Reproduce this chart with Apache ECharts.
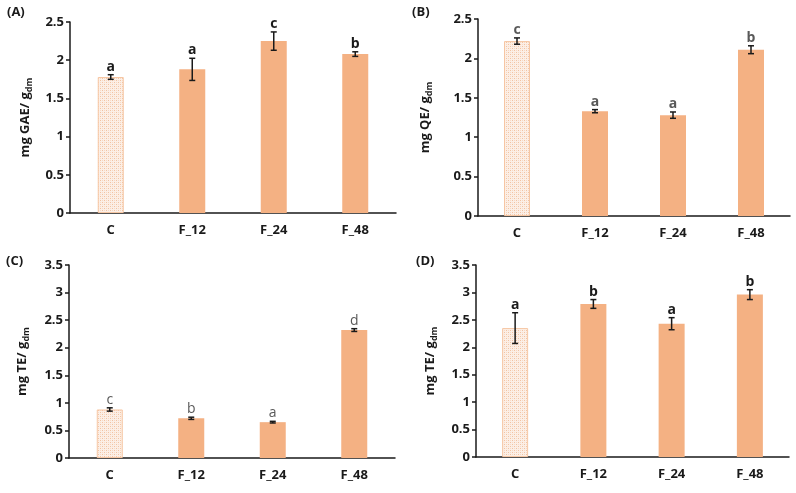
<!DOCTYPE html>
<html>
<head>
<meta charset="utf-8">
<script src="https://cdn.jsdelivr.net/npm/echarts@6/dist/echarts.min.js"></script>
<style>
  html, body { margin: 0; padding: 0; background: #fff; }
  #chart { width: 796px; height: 493px; }
</style>
</head>
<body>
<div id="chart"></div>
<script>
// categories shared by all four panels
const categories = ["C", "F_12", "F_24", "F_48"];

// (A) total phenolics, mg GAE / g dm
const meansA = [1.78, 1.88, 2.25, 2.08];
const errsA = [0.03, 0.145, 0.12, 0.03];
const lettersA = ["a", "a", "c", "b"];

// (B) flavonoids, mg QE / g dm
const meansB = [2.22, 1.33, 1.28, 2.11];
const errsB = [0.04, 0.02, 0.04, 0.05];
const lettersB = ["c", "a", "a", "b"];

// (C) mg TE / g dm
const meansC = [0.88, 0.72, 0.65, 2.32];
const errsC = [0.03, 0.02, 0.015, 0.025];
const lettersC = ["c", "b", "a", "d"];

// (D) mg TE / g dm
const meansD = [2.35, 2.79, 2.43, 2.96];
const errsD = [0.28, 0.08, 0.11, 0.09];
const lettersD = ["a", "b", "a", "b"];

const FONT = "'Open Sans', 'DejaVu Sans', sans-serif";
const barColor = "#F4B183";

// dotted peach pattern for the control bar
function makePattern() {
  const c = document.createElement("canvas");
  c.width = 4;
  c.height = 4;
  const ctx = c.getContext("2d");
  ctx.fillStyle = "#fcefe6";
  ctx.fillRect(0, 0, 4, 4);
  ctx.fillStyle = "#f2c3a2";
  ctx.fillRect(0, 0, 1, 1);
  ctx.fillRect(2, 2, 1, 1);
  ctx.fillStyle = "#f7dac6";
  ctx.fillRect(2, 0, 1, 1);
  ctx.fillRect(0, 2, 1, 1);
  return c;
}
const pattern = { image: makePattern(), repeat: "repeat" };

const panels = [
  { label: "(A)", unit: "mg GAE/ g", means: meansA, errs: errsA, letters: lettersA, max: 2.5,
    grid: { left: 70, top: 22, width: 326, height: 191 }, nameGap: 36, letterColor: "#1a1a1a", letterWeight: "bold",
    tag: { x: 7, y: 6 } },
  { label: "(B)", unit: "mg QE/ g", means: meansB, errs: errsB, letters: lettersB, max: 2.5,
    grid: { left: 478, top: 19, width: 312, height: 197 }, nameGap: 44, letterColor: "#595959", letterWeight: "bold",
    tag: { x: 412, y: 6 } },
  { label: "(C)", unit: "mg TE/ g", means: meansC, errs: errsC, letters: lettersC, max: 3.5,
    grid: { left: 69, top: 265, width: 326, height: 193 }, nameGap: 38, letterColor: "#595959", letterWeight: "normal",
    tag: { x: 6, y: 255 } },
  { label: "(D)", unit: "mg TE/ g", means: meansD, errs: errsD, letters: lettersD, max: 3.5,
    grid: { left: 476, top: 265, width: 313, height: 192 }, nameGap: 37, letterColor: "#1a1a1a", letterWeight: "bold",
    tag: { x: 416, y: 255 } }
];

const grid = [];
const xAxis = [];
const yAxis = [];
const series = [];
const graphic = [];

panels.forEach((p, i) => {
  grid.push(Object.assign({ containLabel: false }, p.grid));
  xAxis.push({
    type: "category",
    gridIndex: i,
    data: categories,
    axisLine: { lineStyle: { color: "#1a1a1a", width: 1.5 } },
    axisTick: { show: false },
    axisLabel: { color: "#1a1a1a", fontFamily: FONT, fontWeight: "bold", fontSize: 13, margin: 11 }
  });
  yAxis.push({
    type: "value",
    gridIndex: i,
    min: 0,
    max: p.max,
    interval: 0.5,
    splitLine: { show: false },
    axisLine: { show: true, lineStyle: { color: "#1a1a1a", width: 1.5 } },
    axisTick: { show: true, length: 4, lineStyle: { color: "#1a1a1a", width: 1.5 } },
    axisLabel: { color: "#1a1a1a", fontFamily: FONT, fontWeight: "bold", fontSize: 13, margin: 6 },
    name: "{m|" + p.unit + "}{s|dm}",
    nameLocation: "middle",
    nameGap: p.nameGap,
    nameTextStyle: {
      rich: {
        m: { fontFamily: FONT, fontWeight: "bold", fontSize: 13, color: "#1a1a1a", lineHeight: 18, verticalAlign: "middle" },
        s: { fontFamily: FONT, fontWeight: "bold", fontSize: 9, color: "#1a1a1a", lineHeight: 18, verticalAlign: "bottom", padding: [6, 0, 0, 0] }
      }
    }
  });
  series.push({
    type: "bar",
    xAxisIndex: i,
    yAxisIndex: i,
    barWidth: 26,
    data: p.means.map((v, k) => k === 0
      ? { value: v, itemStyle: { color: pattern, borderColor: "#f6c6a3", borderWidth: 1 } }
      : { value: v, itemStyle: { color: barColor } }),
    silent: true
  });
  series.push({
    type: "custom",
    xAxisIndex: i,
    yAxisIndex: i,
    z: 10,
    silent: true,
    data: p.means.map((v, k) => [k, v, p.errs[k]]),
    renderItem: function (params, api) {
      const k = api.value(0);
      const m = api.value(1);
      const e = api.value(2);
      const top = api.coord([k, m + e]);
      const bot = api.coord([k, m - e]);
      const cap = 3;
      const ls = { stroke: "#1a1a1a", lineWidth: 1.5 };
      return {
        type: "group",
        children: [
          { type: "line", shape: { x1: top[0], y1: top[1], x2: bot[0], y2: bot[1] }, style: ls },
          { type: "line", shape: { x1: top[0] - cap, y1: top[1], x2: top[0] + cap, y2: top[1] }, style: ls },
          { type: "line", shape: { x1: bot[0] - cap, y1: bot[1], x2: bot[0] + cap, y2: bot[1] }, style: ls },
          { type: "text", style: {
              text: p.letters[params.dataIndex], x: top[0], y: top[1] - 1,
              align: "center", verticalAlign: "bottom",
              font: p.letterWeight + " 14px " + FONT, fill: p.letterColor } }
        ]
      };
    }
  });
  graphic.push({
    type: "text", left: p.tag.x, top: p.tag.y,
    style: { text: p.label, font: "bold 13px " + FONT, fill: "#1a1a1a" }
  });
});

const chart = echarts.init(document.getElementById("chart"));
chart.setOption({
  animation: false,
  backgroundColor: "#fff",
  grid,
  xAxis,
  yAxis,
  series,
  graphic
});
</script>
</body>
</html>
